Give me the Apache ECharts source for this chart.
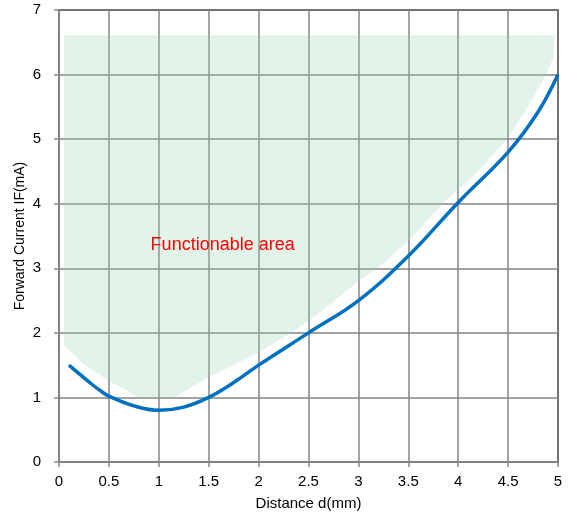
<!DOCTYPE html>
<html>
<head>
<meta charset="utf-8">
<script src="https://cdn.jsdelivr.net/npm/echarts@6/dist/echarts.min.js"></script>
<style>html,body{margin:0;padding:0;background:#fff}#c{width:570px;height:515px}</style>
</head>
<body>
<div id="c"></div>
<script>
// Forward current vs distance curve
var distance = [0.1, 0.2, 0.3, 0.4, 0.5, 0.75, 1.0, 1.25, 1.5, 1.75, 2.0, 2.5, 3.0, 3.5, 4.0, 4.5, 4.8, 5.0];
var current  = [1.5, 1.37, 1.24, 1.12, 1.02, 0.87, 0.8, 0.85, 1.0, 1.23, 1.5, 2.0, 2.5, 3.19, 4.02, 4.8, 5.42, 6.0];

// Functionable area boundary (x, y pairs)
var areaX = [0.05, 4.97, 4.95, 4.88, 4.7, 4.49, 4.2, 3.88, 3.55, 3.24, 3.0, 2.62, 2.35, 2.0, 1.51, 1.2, 1.14, 0.81, 0.48, 0.24, 0.05];
var areaY = [6.61, 6.61, 6.25, 6.0, 5.5, 5.0, 4.5, 4.05, 3.5, 3.05, 2.8, 2.32, 2.02, 1.7, 1.32, 1.04, 0.99, 0.99, 1.27, 1.53, 1.81];

var areaLabel = 'Functionable area';
var areaLabelPos = [1.64, 3.36];

var xName = 'Distance d(mm)';
var yName = 'Forward Current IF(mA)';

var chart = echarts.init(document.getElementById('c'));
var font = 'Liberation Sans, Arial, sans-serif';

chart.setOption({
  animation: false,
  grid: { left: 59, right: 12, top: 10, bottom: 53, outerBoundsMode: 'none', containLabel: false, show: true, borderColor: '#000', borderWidth: 1.5, backgroundColor: 'transparent' },
  xAxis: {
    type: 'value', min: 0, max: 5, interval: 0.5,
    name: xName, nameLocation: 'middle', nameGap: 34, nameMoveOverlap: false,
    nameTextStyle: { fontFamily: font, fontSize: 15, color: '#000' },
    axisLine: { show: true, onZero: false, lineStyle: { color: '#888', width: 1.5 } },
    axisTick: { show: true, length: 5, lineStyle: { color: '#888', width: 1.5 } },
    axisLabel: { fontFamily: font, fontSize: 15, color: '#000', margin: 12 },
    splitLine: { show: true, lineStyle: { color: '#858585', width: 1.5 } }
  },
  yAxis: {
    type: 'value', min: 0, max: 7, interval: 1,
    name: yName, nameLocation: 'middle', nameGap: 32, nameMoveOverlap: false,
    nameTextStyle: { fontFamily: font, fontSize: 14, color: '#000' },
    axisLine: { show: true, onZero: false, lineStyle: { color: '#888', width: 1.5 } },
    axisTick: { show: true, length: 5, lineStyle: { color: '#888', width: 1.5 } },
    axisLabel: { fontFamily: font, fontSize: 15, color: '#000', margin: 18 },
    splitLine: { show: true, lineStyle: { color: '#858585', width: 1.5 } }
  },
  series: [
    {
      type: 'custom',
      coordinateSystem: 'cartesian2d',
      data: [[0, 0]],
      z: 1,
      renderItem: function (params, api) {
        var pts = [];
        for (var i = 0; i < areaX.length; i++) pts.push(api.coord([areaX[i], areaY[i]]));
        var c = api.coord(areaLabelPos);
        return {
          type: 'group',
          children: [
            { type: 'polygon', shape: { points: pts, smooth: 0 }, style: { fill: 'rgba(150,215,180,0.28)' } },
            { type: 'text', x: c[0], y: c[1], z2: 10, style: { text: areaLabel, fill: '#ff0000', font: '18px ' + font, align: 'center', verticalAlign: 'middle' } }
          ]
        };
      }
    },
    {
      type: 'line',
      data: distance.map(function (d, i) { return [d, current[i]]; }),
      smooth: 0.4,
      showSymbol: false,
      z: 3,
      lineStyle: { color: '#0070C0', width: 3.5 }
    }
  ]
});
</script>
</body>
</html>
